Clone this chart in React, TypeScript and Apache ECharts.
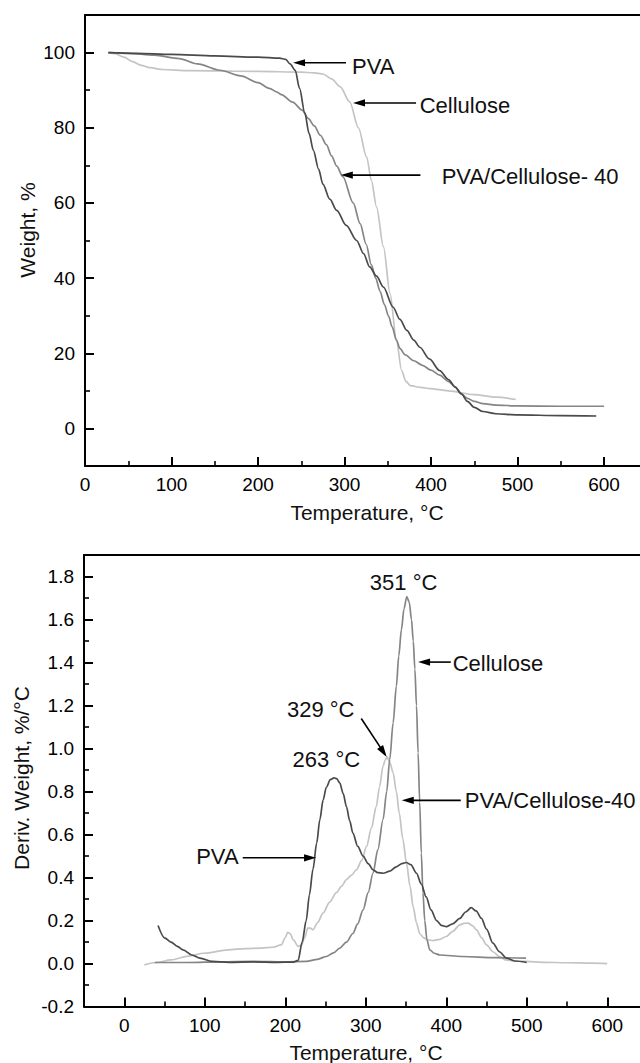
import React, { useEffect, useRef } from "react";
import * as echarts from "echarts";

// ---------- Data (TGA: Temperature °C, Weight %) ----------
const tgaPVA: number[][] = [
  [27, 100], [60, 99.8], [100, 99.5], [150, 99.1], [200, 98.8], [225, 98.5], [232, 98.2],
  [237, 97], [243, 95.3], [248, 90.5], [254, 84], [259, 78.5], [264, 74], [270, 69],
  [275, 65], [283, 61], [291, 58], [302, 54], [314, 50], [322, 46.5], [329, 43],
  [337, 40.5], [345, 37.6], [356, 32.3], [364, 29], [372, 26.1], [380, 23.5], [387, 21.6],
  [398, 18.5], [410, 15.4], [420, 13], [428, 11], [435, 9.2], [442, 7.2], [450, 5.6],
  [460, 4.5], [475, 3.9], [500, 3.6], [550, 3.4], [591, 3.3],
];
const tgaCellulose: number[][] = [
  [27, 100], [35, 99.7], [45, 98.8], [55, 97.6], [65, 96.6], [75, 96], [90, 95.5],
  [120, 95.2], [200, 95], [250, 94.8], [265, 94.6], [275, 94.3], [285, 93], [295, 90.9],
  [306, 86.9], [316, 80], [325.6, 72.2], [331, 66], [337, 58.9], [345, 48.3], [352.6, 35.9],
  [360, 23.4], [366, 15.4], [371, 12.5], [376, 11.4], [388, 10.9], [399, 10.6], [420, 10],
  [450, 9], [475, 8.3], [498, 7.7],
];
const tgaBlend: number[][] = [
  [27, 100], [50, 99.8], [80, 99.3], [109, 98.4], [130, 97], [156, 95.3], [180, 93.8],
  [200, 92], [213, 90.5], [222, 89.5], [227, 88.8], [240, 86.8], [251, 84.7], [258, 82.5],
  [265, 80.5], [272, 78], [279, 75.5], [285, 72.5], [291, 69.8], [298, 67], [310, 60],
  [318, 54.5], [325, 49], [331, 43.5], [336, 40], [341, 36.5], [346, 33], [351, 29.8],
  [355, 27], [360, 23.5], [364, 21.3], [370, 19.6], [380, 18], [390, 16.8], [400, 15.5],
  [410, 14.2], [420, 12.5], [428, 11], [435, 9.2], [442, 8], [450, 7.2], [460, 6.6],
  [475, 6.2], [500, 6], [550, 5.9], [600, 5.9],
];

// ---------- Data (DTG: Temperature °C, Deriv. Weight %/°C) ----------
const dtgPVA: number[][] = [
  [42, 0.177], [50, 0.12], [58, 0.1], [66, 0.08], [73, 0.064], [84, 0.04], [94, 0.025],
  [109, 0.01], [130, 0.006], [160, 0.008], [190, 0.006], [210, 0.007], [216, 0.015],
  [221, 0.1], [226, 0.2], [230, 0.32], [234.5, 0.44], [239, 0.56], [243, 0.67], [247, 0.76],
  [251, 0.82], [256, 0.855], [260.6, 0.864], [264, 0.86], [267.7, 0.84], [272, 0.79],
  [276, 0.73], [280, 0.665], [284, 0.607], [290, 0.545], [296.7, 0.5], [303, 0.465],
  [309, 0.436], [315, 0.423], [321.5, 0.42], [330, 0.43], [338, 0.45], [345, 0.465],
  [350.5, 0.47], [356, 0.46], [363, 0.42], [369, 0.37], [375, 0.31], [381, 0.25],
  [388, 0.2], [394, 0.178], [400, 0.172], [408, 0.185], [416.8, 0.21], [424, 0.24],
  [431, 0.26], [437, 0.245], [443.7, 0.21], [450, 0.16], [458, 0.095], [466, 0.055],
  [475, 0.025], [485, 0.012], [500, 0.005],
];
const dtgCellulose: number[][] = [
  [38, 0.005], [80, 0.005], [120, 0.008], [160, 0.01], [200, 0.008], [226, 0.01],
  [240, 0.02], [251, 0.033], [260, 0.05], [267.7, 0.072], [276, 0.1], [284, 0.14],
  [290, 0.185], [296.7, 0.25], [303, 0.33], [309, 0.42], [315, 0.53], [321.5, 0.67],
  [326, 0.8], [329.8, 0.95], [334, 1.12], [338, 1.29], [341, 1.43], [344.3, 1.554],
  [347.5, 1.65], [351, 1.707], [354, 1.68], [356.8, 1.6], [359, 1.5], [361, 1.37],
  [363, 1.2], [365, 0.98], [367, 0.75], [369, 0.514], [371, 0.33], [373.3, 0.2],
  [376, 0.11], [379.5, 0.064], [385, 0.048], [392, 0.04], [420, 0.033], [460, 0.028],
  [499, 0.025],
];
const dtgBlend: number[][] = [
  [25, -0.006], [40, 0.005], [58, 0.017], [80, 0.035], [99, 0.048], [129, 0.064],
  [150, 0.07], [170, 0.072], [185, 0.076], [195, 0.087], [200, 0.12], [203, 0.145],
  [206, 0.14], [210, 0.11], [216, 0.08], [220, 0.085], [224, 0.12], [228, 0.165],
  [231, 0.165], [234.5, 0.157], [240, 0.19], [247, 0.235], [255, 0.285], [263.6, 0.33],
  [270, 0.36], [276, 0.39], [282, 0.41], [288.4, 0.436], [295, 0.48], [301, 0.545],
  [307, 0.63], [313, 0.73], [317, 0.82], [321.5, 0.918], [324, 0.945], [326.5, 0.96],
  [330, 0.935], [334, 0.887], [338, 0.8], [341.6, 0.7], [346, 0.58], [350.6, 0.468],
  [355, 0.36], [358.8, 0.265], [363, 0.19], [367, 0.14], [372, 0.12], [377, 0.11],
  [383.6, 0.107], [392, 0.113], [400, 0.126], [408, 0.15], [416.8, 0.18], [422, 0.187],
  [427, 0.188], [432, 0.178], [437.5, 0.157], [444, 0.12], [450, 0.087], [458, 0.055],
  [466, 0.033], [474, 0.017], [485, 0.012], [499, 0.01], [520, 0.006], [550, 0.004],
  [580, 0.002], [600, 0],
];

// ---------- Tick values ----------
const tgaXTicks = [0, 100, 200, 300, 400, 500, 600];
const tgaXMinor = [50, 150, 250, 350, 450, 550];
const tgaYTicks = [0, 20, 40, 60, 80, 100];
const tgaYMinor = [10, 30, 50, 70, 90];
const dtgXTicks = [0, 100, 200, 300, 400, 500, 600];
const dtgXMinor = [50, 150, 250, 350, 450, 550];
const dtgYTicks = [-0.2, 0, 0.2, 0.4, 0.6, 0.8, 1.0, 1.2, 1.4, 1.6, 1.8];
const dtgYMinor = [-0.1, 0.1, 0.3, 0.5, 0.7, 0.9, 1.1, 1.3, 1.5, 1.7];

// ---------- Annotations (data coordinates) ----------
const tgaNotes = [
  { text: "PVA", at: [308.7, 96.2], tail: [301.7, 97.3], tip: [240.5, 97.3] },
  { text: "Cellulose", at: [386.8, 85.8], tail: [382.7, 86.6], tip: [309.8, 86.6] },
  { text: "PVA/Cellulose- 40", at: [412.3, 67.1], tail: [387.7, 67.4], tip: [295.7, 67.4] },
];
const dtgNotes = [
  { text: "Cellulose", at: [408, 1.396], tail: [405.6, 1.402], tip: [365, 1.402] },
  { text: "PVA/Cellulose-40", at: [423, 0.759], tail: [418, 0.759], tip: [344.7, 0.759] },
];
const dtgPeakLabels = [
  { text: "351 °C", at: [347, 1.773] },
  { text: "329 °C", at: [244, 1.182] },
  { text: "263 °C", at: [251, 0.949] },
];
const dtgPvaNote = { text: "PVA", at: [142, 0.496], tail: [147.2, 0.492], tip: [238.3, 0.492] };
const dtg329Arrow = { tail: [294.4, 1.14], tip: [326, 0.961] };

const FONT = '"Liberation Sans", Arial, Helvetica, sans-serif';
const DARK = "#4a4a4a";
const MID = "#858585";
const LIGHT = "#c4c4c4";

function mainX(gridIndex: number, min: number, max: number, ticks: number[]) {
  return {
    type: "value", gridIndex, min, max, position: "bottom",
    axisLine: { show: true, onZero: false, lineStyle: { color: "#000", width: 2 } },
    axisTick: { show: true, inside: true, length: 9, customValues: ticks, lineStyle: { color: "#000", width: 2 } },
    axisLabel: { show: true, customValues: ticks, margin: 9, color: "#000", fontSize: 19, fontFamily: FONT },
    splitLine: { show: false },
  };
}
function minorX(gridIndex: number, min: number, max: number, ticks: number[]) {
  return {
    type: "value", gridIndex, min, max, position: "bottom",
    axisLine: { show: false, onZero: false },
    axisTick: { show: true, inside: true, length: 5, customValues: ticks, lineStyle: { color: "#000", width: 1.6 } },
    axisLabel: { show: false },
    splitLine: { show: false },
  };
}
function frameTop(gridIndex: number, min: number, max: number) {
  return {
    type: "value", gridIndex, min, max, position: "top",
    axisLine: { show: true, onZero: false, lineStyle: { color: "#000", width: 2 } },
    axisTick: { show: false },
    axisLabel: { show: false },
    splitLine: { show: false },
  };
}
function mainY(gridIndex: number, min: number, max: number, ticks: number[], dec: number) {
  return {
    type: "value", gridIndex, min, max, position: "left",
    axisLine: { show: true, onZero: false, lineStyle: { color: "#000", width: 2 } },
    axisTick: { show: true, inside: true, length: 9, customValues: ticks, lineStyle: { color: "#000", width: 2 } },
    axisLabel: {
      show: true, customValues: ticks, margin: 10, color: "#000", fontSize: 19, fontFamily: FONT,
      formatter: (v: number) => (dec > 0 ? v.toFixed(dec) : String(Math.round(v))),
    },
    splitLine: { show: false },
  };
}
function minorY(gridIndex: number, min: number, max: number, ticks: number[]) {
  return {
    type: "value", gridIndex, min, max, position: "left",
    axisLine: { show: false, onZero: false },
    axisTick: { show: true, inside: true, length: 5, customValues: ticks, lineStyle: { color: "#000", width: 1.6 } },
    axisLabel: { show: false },
    splitLine: { show: false },
  };
}
function line(name: string, data: number[][], color: string, xi: number, yi: number, z: number) {
  return {
    type: "line", name, data, xAxisIndex: xi, yAxisIndex: yi,
    showSymbol: false, symbol: "none", smooth: 0.3, smoothMonotone: "x",
    lineStyle: { color, width: 1.7 }, itemStyle: { color }, silent: true, z,
  };
}

export default function App() {
  const ref = useRef<HTMLDivElement>(null);
  useEffect(() => {
    const chart = echarts.init(ref.current!, null, { renderer: "svg" });
    chart.setOption({
      animation: false,
      backgroundColor: "#fff",
      grid: [
        { left: 85, top: 15, width: 558, height: 451, containLabel: false, outerBoundsMode: "none" },
        { left: 84, top: 555, width: 559.5, height: 451.6, containLabel: false, outerBoundsMode: "none" },
      ],
      xAxis: [
        mainX(0, 0, 645, tgaXTicks),
        minorX(0, 0, 645, tgaXMinor),
        frameTop(0, 0, 645),
        mainX(1, -50, 645, dtgXTicks),
        minorX(1, -50, 645, dtgXMinor),
        frameTop(1, -50, 645),
      ],
      yAxis: [
        mainY(0, -10, 110, tgaYTicks, 0),
        minorY(0, -10, 110, tgaYMinor),
        mainY(1, -0.2, 1.9, dtgYTicks, 1),
        minorY(1, -0.2, 1.9, dtgYMinor),
      ],
      series: [
        line("Cellulose", tgaCellulose, LIGHT, 0, 0, 2),
        line("PVA/Cellulose-40", tgaBlend, MID, 0, 0, 3),
        line("PVA", tgaPVA, DARK, 0, 0, 4),
        line("PVA/Cellulose-40 DTG", dtgBlend, LIGHT, 3, 2, 2),
        line("Cellulose DTG", dtgCellulose, MID, 3, 2, 3),
        line("PVA DTG", dtgPVA, DARK, 3, 2, 4),
      ],
    });

    const P = (si: number, v: number[]) => chart.convertToPixel({ seriesIndex: si }, v) as number[];
    const txt = (x: number, y: number, text: string, align: string, size = 22, rotation = 0) => ({
      type: "text", x, y, rotation, silent: true, z: 100,
      style: {
        text, font: `${size}px ${FONT}`, fill: "#111",
        align, verticalAlign: "middle", textAlign: align, textVerticalAlign: "middle",
      },
    });
    const arrow = (a: number[], b: number[]) => {
      const dx = b[0] - a[0], dy = b[1] - a[1];
      const len = Math.hypot(dx, dy);
      const ux = dx / len, uy = dy / len;
      const hl = 12, hw = 3.6;
      const bx = b[0] - ux * hl, by = b[1] - uy * hl;
      return [
        { type: "line", silent: true, z: 100, shape: { x1: a[0], y1: a[1], x2: bx + ux * 2, y2: by + uy * 2 }, style: { stroke: "#000", lineWidth: 1.6 } },
        { type: "polygon", silent: true, z: 100, shape: { points: [[b[0], b[1]], [bx - uy * hw, by + ux * hw], [bx + uy * hw, by - ux * hw]] }, style: { fill: "#000" } },
      ];
    };

    const els: any[] = [];
    tgaNotes.forEach((n) => {
      const p = P(0, n.at);
      els.push(txt(p[0], p[1], n.text, "left"));
      els.push(...arrow(P(0, n.tail), P(0, n.tip)));
    });
    dtgNotes.forEach((n) => {
      const p = P(3, n.at);
      els.push(txt(p[0], p[1], n.text, "left"));
      els.push(...arrow(P(3, n.tail), P(3, n.tip)));
    });
    dtgPeakLabels.forEach((n) => {
      const p = P(3, n.at);
      els.push(txt(p[0], p[1], n.text, "center"));
    });
    {
      const p = P(3, dtgPvaNote.at);
      els.push(txt(p[0], p[1], dtgPvaNote.text, "right"));
      els.push(...arrow(P(3, dtgPvaNote.tail), P(3, dtgPvaNote.tip)));
      els.push(...arrow(P(3, dtg329Arrow.tail), P(3, dtg329Arrow.tip)));
    }
    // axis titles
    els.push(txt(367, 512, "Temperature, °C", "center", 21));
    els.push(txt(366, 1052, "Temperature, °C", "center", 21));
    els.push(txt(27, 230, "Weight, %", "center", 21, Math.PI / 2));
    els.push(txt(21, 778, "Deriv. Weight, %/°C", "center", 21, Math.PI / 2));

    chart.setOption({ graphic: { elements: els } });
    return () => chart.dispose();
  }, []);
  return (
    <div
      ref={ref}
      style={{ position: "absolute", left: 0, top: 0, width: 640, height: 1063, background: "#fff" }}
    />
  );
}
